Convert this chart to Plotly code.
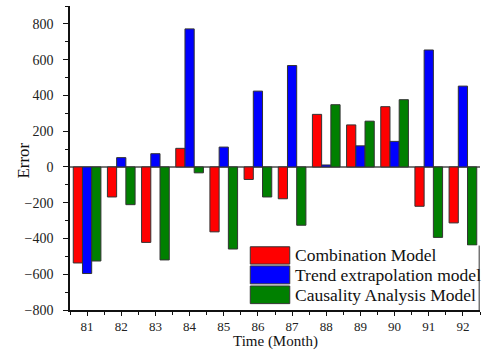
import plotly.graph_objects as go

months = [81, 82, 83, 84, 85, 86, 87, 88, 89, 90, 91, 92]
combination = [-537, -168, -422, 104, -363, -70, -178, 294, 235, 337, -220, -313]
trend = [-596, 52, 74, 772, 111, 424, 567, 11, 118, 143, 654, 452]
causality = [-526, -211, -520, -33, -459, -168, -326, 348, 256, 376, -394, -437]

series_names = ["Combination Model", "Trend extrapolation model", "Causality Analysis Model"]
series_vals = [combination, trend, causality]
colors = ["#FF0000", "#0000FF", "#008000"]

FONT = "Times New Roman, Liberation Serif, serif"

fig = go.Figure()
for name, vals, c in zip(series_names, series_vals, colors):
    fig.add_trace(go.Bar(x=months, y=vals, name=name, marker=dict(color=c, line=dict(color="#333333", width=1)),
                         showlegend=False))

fig.update_layout(
    width=483, height=351,
    margin=dict(l=70, r=3, t=6, b=41, autoexpand=False),
    barmode="group", bargap=0.19, bargroupgap=0,
    plot_bgcolor="white", paper_bgcolor="white",
    font=dict(family=FONT, color="#222222", size=13),
)
fig.update_xaxes(
    range=[80.5, 92.5], tickmode="array", tickvals=months, ticktext=[str(m) for m in months],
    showline=True, linecolor="#111111", linewidth=1.5, ticks="outside", ticklen=4, tickwidth=1.2, tickcolor="#111111",
    minor=dict(ticks="outside", ticklen=3, dtick=0.5, tick0=80.5, tickcolor="#111111", tickwidth=1),
    showgrid=False, zeroline=False,
    tickfont=dict(family=FONT, size=13, color="#222222"),
)
fig.update_yaxes(
    range=[-800, 900], tickmode="array", tickvals=[-800, -600, -400, -200, 0, 200, 400, 600, 800],
    showline=True, linecolor="#111111", linewidth=1.5, ticks="outside", ticklen=5, tickwidth=1.2, tickcolor="#111111",
    minor=dict(ticks="outside", ticklen=3, dtick=100, tick0=0, tickcolor="#111111", tickwidth=1),
    showgrid=False, zeroline=True, zerolinecolor="#777777", zerolinewidth=1.5,
    tickfont=dict(family=FONT, size=14, color="#222222"),
    ticklabelstandoff=7,
)

# axis titles placed like the reference
fig.add_annotation(xref="paper", yref="paper", x=-0.1157, y=0.49, text="Error", showarrow=False,
                   textangle=-90, xanchor="center", yanchor="middle",
                   font=dict(family=FONT, size=17, color="#111111"))
fig.add_annotation(xref="paper", yref="paper", x=0.5, y=-0.134, text="Time (Month)", showarrow=False,
                   xanchor="center", yanchor="bottom", borderpad=0,
                   font=dict(family=FONT, size=15, color="#111111"))

# Manual legend (large swatches like the reference)
fig.add_shape(type="rect", xref="paper", yref="paper", x0=0.43, x1=0.998, y0=0.004, y1=0.212,
              fillcolor="white", line=dict(width=0), layer="above")
fig.add_shape(type="line", xref="paper", yref="paper", x0=0.998, x1=0.998, y0=0.0, y1=0.212,
              line=dict(color="#333333", width=1), layer="above")
rows = [(0.151, 0.208, 0.180), (0.086, 0.145, 0.115), (0.021, 0.079, 0.050)]
for (y0, y1, yc), name, c in zip(rows, series_names, colors):
    fig.add_shape(type="rect", xref="paper", yref="paper", x0=0.4397, x1=0.536, y0=y0, y1=y1,
                  fillcolor=c, line=dict(color="#333333", width=1), layer="above")
    fig.add_annotation(xref="paper", yref="paper", x=0.543, y=yc, text=name, showarrow=False,
                       xanchor="left", yanchor="middle", font=dict(family=FONT, size=17.5, color="#111111"))

fig.write_html("out.html")
